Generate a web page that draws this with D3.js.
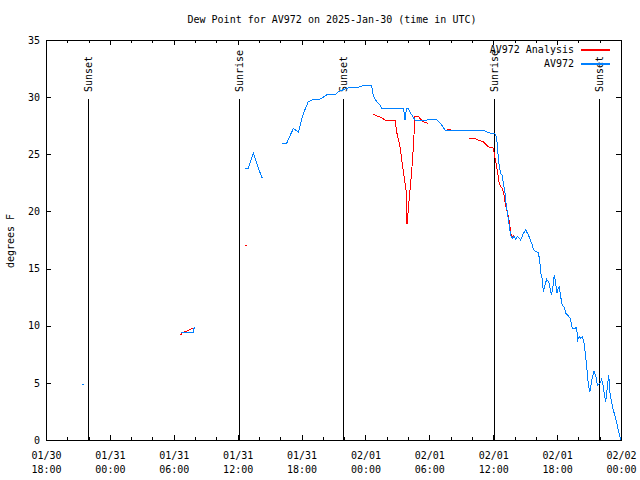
<!DOCTYPE html>
<html><head><meta charset="utf-8">
<script src="https://cdn.jsdelivr.net/npm/d3@7"></script>
<style>
body{margin:0;background:#fff;}
text{font-family:"DejaVu Sans Mono",monospace;font-size:10px;fill:#000;}
</style></head>
<body><svg id="c" width="640" height="480"></svg>
<script>
const title = "Dew Point for AV972 on 2025-Jan-30 (time in UTC)";
const yLabel = "degrees F";
const xDomain = ["2025-01-30 18:00", "2025-02-02 00:00"];
const yDomain = [0, 35];
const yTicks = [0, 5, 10, 15, 20, 25, 30, 35];
const seriesNames = ["AV972 Analysis", "AV972"];
const seriesColors = ["#ff0000", "#0080ff"];

// null entries break the line
const analysisTimes = [
 "2025-01-31 06:40","2025-01-31 06:45","2025-01-31 07:00","2025-01-31 07:15","2025-01-31 07:30","2025-01-31 07:45","2025-01-31 07:55",null,
 "2025-01-31 12:40","2025-01-31 12:50",null,
 "2025-02-01 00:41","2025-02-01 01:04","2025-02-01 01:32","2025-02-01 01:50","2025-02-01 02:47","2025-02-01 02:52","2025-02-01 02:59","2025-02-01 03:15","2025-02-01 03:30","2025-02-01 03:43","2025-02-01 03:49","2025-02-01 03:52","2025-02-01 03:56","2025-02-01 04:01","2025-02-01 04:11","2025-02-01 04:21","2025-02-01 04:30","2025-02-01 04:39","2025-02-01 04:45","2025-02-01 04:58","2025-02-01 05:07","2025-02-01 05:26","2025-02-01 05:54",null,
 "2025-02-01 07:38","2025-02-01 08:01",null,
 "2025-02-01 09:45","2025-02-01 10:17","2025-02-01 10:27","2025-02-01 11:04","2025-02-01 11:32","2025-02-01 12:01","2025-02-01 12:07","2025-02-01 12:14","2025-02-01 12:23","2025-02-01 12:32","2025-02-01 12:42","2025-02-01 12:51","2025-02-01 13:01","2025-02-01 13:06","2025-02-01 13:29","2025-02-01 13:38","2025-02-01 13:44","2025-02-01 13:59"
];
const analysisValues = [
 9.2,9.35,9.45,9.55,9.65,9.75,9.8,null,
 17.05,17.05,null,
 28.52,28.35,28.2,28.0,28.0,27.4,26.7,25.66,23.9,22.46,21.87,18.96,18.96,20.1,21.87,23.6,25.66,28.3,28.35,28.35,28.14,27.86,27.7,null,
 27.2,27.2,null,
 26.39,26.39,26.3,26.1,25.66,25.55,25.0,24.35,23.62,22.6,22.16,22.0,21.43,20.85,19.25,18.22,17.8,17.9
];

const obsTimes = [
 "2025-01-30 21:25","2025-01-30 21:35",null,
 "2025-01-31 06:40","2025-01-31 07:50","2025-01-31 07:55",null,
 "2025-01-31 12:40","2025-01-31 13:00","2025-01-31 13:28","2025-01-31 14:15","2025-01-31 14:25",null,
 "2025-01-31 16:08","2025-01-31 16:36","2025-01-31 17:14","2025-01-31 17:42","2025-01-31 18:10","2025-01-31 18:38","2025-01-31 19:06","2025-01-31 19:34","2025-01-31 19:53","2025-01-31 20:22","2025-01-31 21:08","2025-01-31 21:27","2025-01-31 22:14","2025-01-31 22:33","2025-01-31 23:20","2025-01-31 23:48",
 "2025-02-01 00:35","2025-02-01 00:44","2025-02-01 01:04","2025-02-01 01:22","2025-02-01 01:32","2025-02-01 03:34","2025-02-01 03:39","2025-02-01 03:43","2025-02-01 03:47","2025-02-01 03:53","2025-02-01 04:02","2025-02-01 04:11","2025-02-01 04:39","2025-02-01 05:45","2025-02-01 06:41","2025-02-01 07:10","2025-02-01 07:28","2025-02-01 11:04","2025-02-01 11:32","2025-02-01 12:10","2025-02-01 12:20","2025-02-01 12:23","2025-02-01 12:32","2025-02-01 12:42","2025-02-01 12:51","2025-02-01 12:57","2025-02-01 13:06","2025-02-01 13:12","2025-02-01 13:22","2025-02-01 13:31","2025-02-01 13:38","2025-02-01 13:47","2025-02-01 13:57","2025-02-01 14:07","2025-02-01 14:16","2025-02-01 14:27","2025-02-01 14:35","2025-02-01 14:50","2025-02-01 15:03","2025-02-01 15:18","2025-02-01 15:37","2025-02-01 15:46","2025-02-01 15:55","2025-02-01 16:14","2025-02-01 16:20","2025-02-01 16:29","2025-02-01 16:37","2025-02-01 16:42","2025-02-01 16:52","2025-02-01 17:01","2025-02-01 17:14","2025-02-01 17:24","2025-02-01 17:29","2025-02-01 17:38","2025-02-01 17:44","2025-02-01 17:52","2025-02-01 17:58","2025-02-01 18:07","2025-02-01 18:13","2025-02-01 18:20","2025-02-01 18:29","2025-02-01 18:39","2025-02-01 18:50","2025-02-01 19:03","2025-02-01 19:13","2025-02-01 19:26","2025-02-01 19:41","2025-02-01 19:50","2025-02-01 19:56","2025-02-01 20:05","2025-02-01 20:14","2025-02-01 20:22","2025-02-01 20:32","2025-02-01 20:41","2025-02-01 20:47","2025-02-01 20:56","2025-02-01 21:05","2025-02-01 21:15","2025-02-01 21:28","2025-02-01 21:39","2025-02-01 21:47","2025-02-01 22:02","2025-02-01 22:11","2025-02-01 22:17","2025-02-01 22:24","2025-02-01 22:34","2025-02-01 22:43","2025-02-01 22:51","2025-02-01 22:58","2025-02-01 23:08","2025-02-01 23:17","2025-02-01 23:32","2025-02-01 23:45","2025-02-01 23:58"
];
const obsValues = [
 4.9,4.9,null,
 9.4,9.4,9.85,null,
 23.8,23.8,25.1,23.0,23.0,null,
 25.96,25.96,27.27,26.92,28.58,29.6,29.8,29.75,29.9,30.2,30.2,30.48,30.77,30.85,30.85,31.03,
 31.03,30.1,29.6,29.3,29.0,29.0,28.6,28.0,28.6,29.0,29.0,28.7,28.0,28.0,28.06,27.56,27.12,27.12,26.89,26.8,26.4,25.66,24.2,23.33,23.18,22.46,21.72,20.7,19.68,18.66,17.94,17.65,17.8,17.56,17.8,17.65,17.5,18.08,18.37,17.94,17.2,16.7,16.54,16.4,15.9,14.58,14.0,12.97,13.56,14.06,13.76,12.97,12.69,13.56,14.44,13.71,12.83,13.27,13.41,12.54,11.81,11.66,11.08,10.85,10.65,9.77,9.77,9.86,8.75,9.04,8.9,9.04,8.46,7.29,6.41,4.81,4.23,5.25,6.06,5.54,4.81,4.96,5.31,4.96,4.23,3.35,4.66,5.69,4.09,3.21,2.62,1.75,0.875,0.0
];

const sunTimes = ["2025-01-30 21:54","2025-01-31 12:05","2025-01-31 21:56","2025-02-01 12:04","2025-02-01 21:58"];
const sunLabels = ["Sunset","Sunrise","Sunset","Sunrise","Sunset"];

const parse = d3.utcParse("%Y-%m-%d %H:%M");
const svg = d3.select("#c");
const L = 46, R = 621, T = 40, B = 440;
const x = d3.scaleUtc().domain(xDomain.map(parse)).range([L, R]);
const y = d3.scaleLinear().domain(yDomain).range([B, T]);

function makeData(times, values){
  return times.map((t,i)=>({t: t ? parse(t) : null, v: values[i]}));
}
const line = d3.line().defined(d=>d.v!==null && d.t!==null).x(d=>x(d.t)).y(d=>y(d.v));

// frame
svg.append("rect").attr("x",L+0.5).attr("y",T+0.5).attr("width",R-L).attr("height",B-T)
  .attr("fill","none").attr("stroke","#000").attr("shape-rendering","crispEdges");

const major = d3.utcHour.every(6).range(x.domain()[0], d3.utcMinute.offset(x.domain()[1],1));
const minor = d3.utcHour.every(2).range(x.domain()[0], d3.utcMinute.offset(x.domain()[1],1));

function styleAxis(g){ g.select(".domain").remove(); g.selectAll("line").attr("stroke","#000").attr("shape-rendering","crispEdges"); }

// minor x ticks bottom/top
svg.append("g").attr("transform",`translate(0,${B})`).call(d3.axisBottom(x).tickValues(minor).tickSize(-3).tickFormat("")).call(styleAxis);
svg.append("g").attr("transform",`translate(0,${T})`).call(d3.axisTop(x).tickValues(minor).tickSize(-3).tickFormat("")).call(styleAxis);
// major x ticks
const fmt1 = d3.utcFormat("%m/%d"), fmt2 = d3.utcFormat("%H:%M");
const xb = svg.append("g").attr("transform",`translate(0,${B})`).call(d3.axisBottom(x).tickValues(major).tickSize(-5).tickPadding(0).tickFormat(fmt1)).call(styleAxis);
xb.selectAll(".tick text").each(function(d){
  const t = d3.select(this); t.text(null).attr("y",0).attr("dy",null);
  t.append("tspan").attr("x",0).attr("y",19).text(fmt1(d));
  t.append("tspan").attr("x",0).attr("y",33).text(fmt2(d));
});
svg.append("g").attr("transform",`translate(0,${T})`).call(d3.axisTop(x).tickValues(major).tickSize(-5).tickFormat("")).call(styleAxis);

// y ticks
svg.append("g").attr("transform",`translate(${L},0)`).call(d3.axisLeft(y).tickValues(yTicks).tickSize(-5).tickPadding(6).tickFormat(d3.format("d"))).call(styleAxis);
svg.append("g").attr("transform",`translate(${R},0)`).call(d3.axisRight(y).tickValues(yTicks).tickSize(-5).tickFormat("")).call(styleAxis);
svg.selectAll("g[font-family]").attr("font-family",null).attr("font-size",null);
svg.selectAll(".tick text").attr("fill","#000");

// sun lines
const sun = svg.append("g");
sunTimes.forEach((t,i)=>{
  const xx = Math.round(x(parse(t)))+0.5;
  sun.append("line").attr("x1",xx).attr("x2",xx).attr("y1",99).attr("y2",B).attr("stroke","#000").attr("shape-rendering","crispEdges");
  sun.append("text").attr("transform",`translate(${xx},92) rotate(-90)`).attr("dy","0.35em").text(sunLabels[i]);
});

// series
svg.append("path").datum(makeData(analysisTimes, analysisValues)).attr("d",line)
  .attr("fill","none").attr("stroke",seriesColors[0]).attr("stroke-width",1).attr("shape-rendering","crispEdges");
svg.append("path").datum(makeData(obsTimes, obsValues)).attr("d",line)
  .attr("fill","none").attr("stroke",seriesColors[1]).attr("stroke-width",1).attr("shape-rendering","crispEdges");

// title / labels
svg.append("text").attr("x",332).attr("y",23).attr("text-anchor","middle").text(title);
svg.append("text").attr("transform","translate(14,241) rotate(-90)").attr("text-anchor","middle").text(yLabel);

// legend
seriesNames.forEach((n,i)=>{
  const yy = 49 + i*14;
  svg.append("text").attr("x",574).attr("y",yy).attr("dy","0.35em").attr("text-anchor","end").text(n);
  svg.append("rect").attr("x",581).attr("y",yy-0.5).attr("width",29).attr("height",2).attr("fill",seriesColors[i]).attr("shape-rendering","crispEdges");
});
</script></body></html>
